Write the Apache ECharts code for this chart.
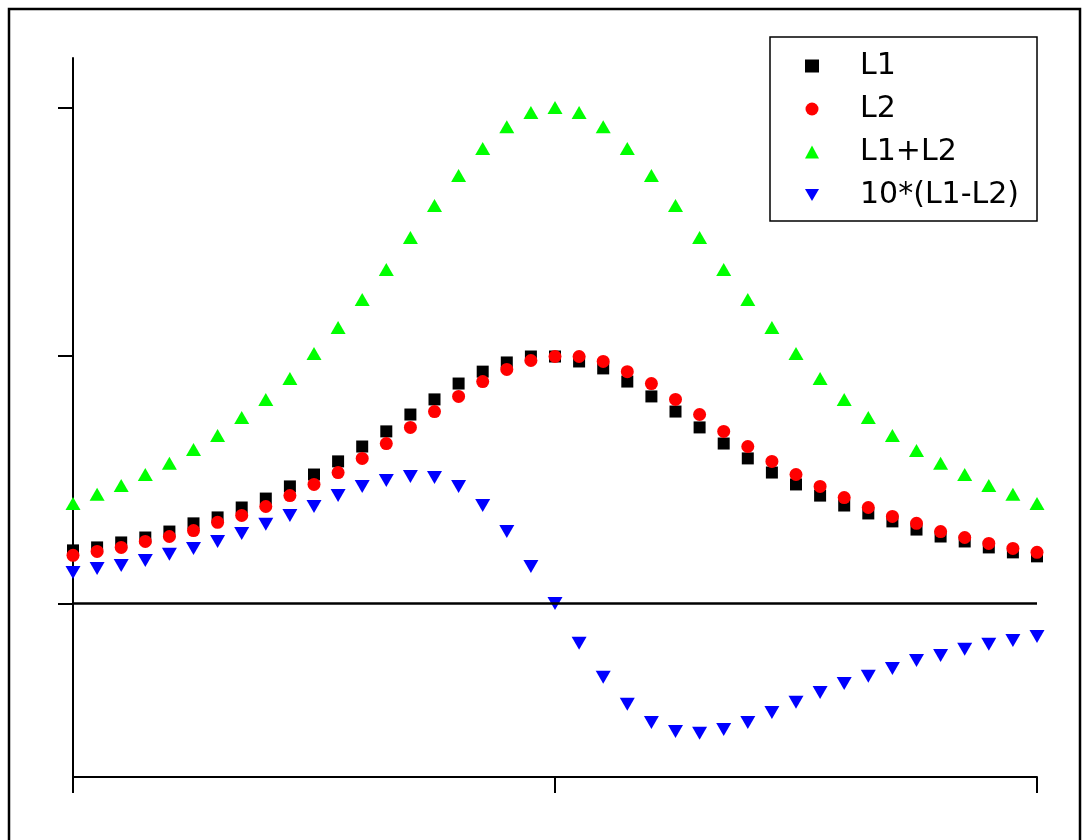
<!DOCTYPE html>
<html>
<head>
<meta charset="utf-8">
<script src="https://cdn.jsdelivr.net/npm/echarts@6/dist/echarts.min.js"></script>
<style>
html,body{margin:0;padding:0;background:#fff;}
#chart{width:1087px;height:840px;}
</style>
</head>
<body>
<div id="chart"></div>
<script>
const xValues = [-20,-19,-18,-17,-16,-15,-14,-13,-12,-11,-10,-9,-8,-7,-6,-5,-4,-3,-2,-1,0,1,2,3,4,5,6,7,8,9,10,11,12,13,14,15,16,17,18,19,20];
const seriesNames = ['L1', 'L2', 'L1+L2', '10*(L1-L2)'];
const l1 = [0.214,0.226,0.246,0.266,0.290,0.323,0.347,0.387,0.423,0.472,0.520,0.573,0.633,0.694,0.762,0.823,0.887,0.935,0.972,0.996,0.996,0.976,0.948,0.895,0.835,0.774,0.710,0.645,0.585,0.528,0.480,0.435,0.395,0.363,0.331,0.298,0.270,0.250,0.226,0.206,0.190];
const l2 = [0.194,0.210,0.226,0.250,0.270,0.294,0.327,0.355,0.391,0.435,0.480,0.528,0.585,0.645,0.710,0.774,0.835,0.895,0.944,0.980,0.996,0.996,0.976,0.935,0.887,0.823,0.762,0.694,0.633,0.573,0.520,0.472,0.427,0.387,0.351,0.323,0.290,0.266,0.242,0.222,0.206];
const sumL = [0.403,0.440,0.476,0.520,0.565,0.621,0.677,0.750,0.823,0.907,1.008,1.113,1.226,1.347,1.476,1.605,1.726,1.835,1.923,1.980,2.000,1.980,1.923,1.835,1.726,1.605,1.476,1.347,1.226,1.113,1.008,0.907,0.823,0.750,0.677,0.617,0.565,0.520,0.476,0.440,0.403];
const diffL = [0.125,0.141,0.153,0.173,0.198,0.222,0.250,0.282,0.319,0.355,0.391,0.435,0.472,0.496,0.512,0.508,0.472,0.395,0.290,0.149,0.000,-0.161,-0.298,-0.407,-0.480,-0.516,-0.524,-0.508,-0.480,-0.440,-0.399,-0.359,-0.323,-0.294,-0.262,-0.230,-0.210,-0.185,-0.165,-0.149,-0.133];
const yTickValues = [0, 1, 2];

function pairs(ys){ return xValues.map((x,i)=>[x, ys[i]]); }

const chart = echarts.init(document.getElementById('chart'), null, {renderer:'canvas'});
const font = 'DejaVu Sans, Liberation Sans, Arial, sans-serif';
const downTri = 'path://M0,0 L10,0 L5,8.6 Z';

chart.setOption({
  animation: false,
  backgroundColor: '#fff',
  grid: {left: 73, right: 50, top: 58, bottom: 63},
  xAxis: {
    type: 'value', min: -20, max: 20, interval: 20,
    axisLine: {onZero: false, lineStyle: {color: '#000', width: 2}},
    axisTick: {show: true, inside: false, length: 16, lineStyle: {color: '#000', width: 2}},
    axisLabel: {show: false},
    splitLine: {show: false}
  },
  yAxis: {
    type: 'value', min: -0.7, max: 2.2,
    axisLine: {show: true, onZero: false, lineStyle: {color: '#000', width: 2}},
    axisTick: {show: true, inside: false, length: 15, customValues: yTickValues, lineStyle: {color: '#000', width: 2}},
    axisLabel: {show: false},
    splitLine: {show: false}
  },
  legend: {
    orient: 'vertical', left: 770, top: 37,
    padding: [13, 18, 10, 35],
    itemGap: 11,
    itemWidth: 14, itemHeight: 13,
    borderColor: '#000', borderWidth: 1.5,
    textStyle: {fontFamily: font, fontSize: 30, color: '#000', lineHeight: 32, padding: [0, 0, 0, 36]},
    data: seriesNames
  },
  graphic: [{
    type: 'rect', shape: {x: 9, y: 9, width: 1071, height: 850},
    style: {fill: 'none', stroke: '#000', lineWidth: 2.5}, silent: true, z: 100
  }],
  series: [
    {name: seriesNames[0], type: 'scatter', data: pairs(l1), symbol: 'rect', symbolSize: 12,
     itemStyle: {color: '#000000', opacity: 1},
     markLine: {silent: true, symbol: ['none','none'], label: {show: false},
       lineStyle: {color: '#000', width: 2.5, type: 'solid'}, data: [{yAxis: 0}]}},
    {name: seriesNames[1], type: 'scatter', data: pairs(l2), symbol: 'circle', symbolSize: 13,
     itemStyle: {color: '#ff0000', opacity: 1}},
    {name: seriesNames[2], type: 'scatter', data: pairs(sumL), symbol: 'triangle', symbolSize: [15, 13],
     itemStyle: {color: '#00ff00', opacity: 1}},
    {name: seriesNames[3], type: 'scatter', data: pairs(diffL), symbol: downTri, symbolSize: [15, 13],
     itemStyle: {color: '#0000ff', opacity: 1}}
  ]
});
</script>
</body>
</html>
